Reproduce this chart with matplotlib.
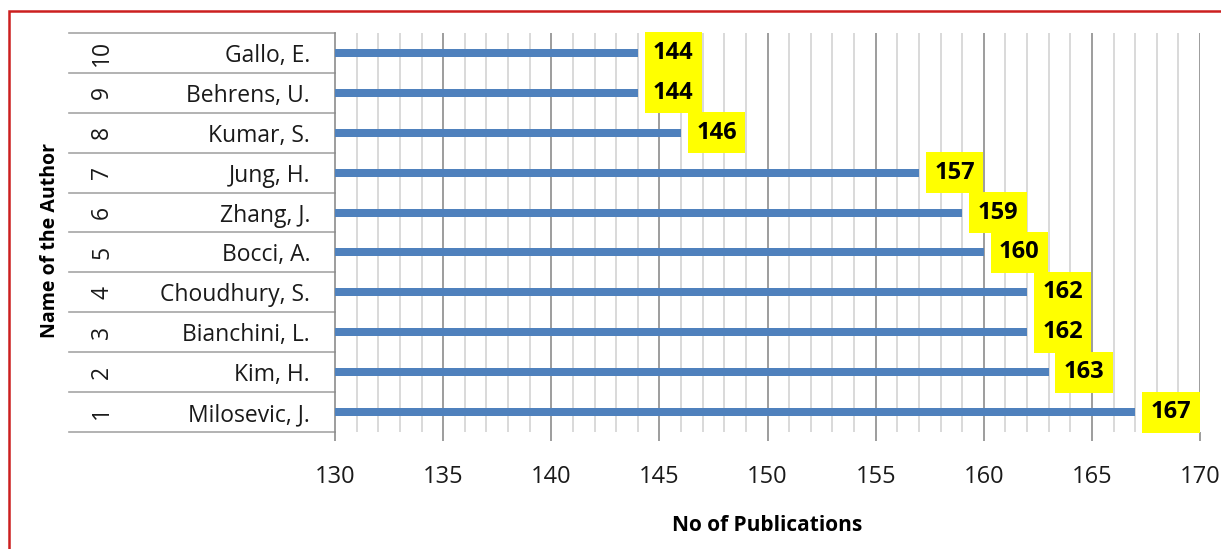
import matplotlib
matplotlib.use("Agg")
import matplotlib.pyplot as plt
import matplotlib.transforms as mtransforms
from matplotlib.patches import Rectangle

# data, rank 1 at the bottom
ranks = ["1", "2", "3", "4", "5", "6", "7", "8", "9", "10"]
authors = ["Milosevic, J.", "Kim, H.", "Bianchini, L.", "Choudhury, S.", "Bocci, A.",
           "Zhang, J.", "Jung, H.", "Kumar, S.", "Behrens, U.", "Gallo, E."]
publications = [167, 163, 162, 162, 160, 159, 157, 146, 144, 144]

plt.rcParams["font.family"] = ["Open Sans", "DejaVu Sans"]

W, H = 1221, 549
fig = plt.figure(figsize=(W / 100, H / 100), dpi=100)
ax = fig.add_axes([335 / W, 1 - 432 / H, 865 / W, 399 / H])

y = list(range(len(authors)))
ax.barh(y, publications, height=0.2, color="#4F81BD", zorder=3)
ax.set_xlim(130, 170)
ax.set_ylim(-0.5, len(authors) - 0.5)

# gridlines every 1, darker every 5
for v in range(131, 171):
    ax.axvline(v, color="#8c8c8c" if v % 5 == 0 else "#d3d3d3", lw=1.2, zorder=1)

for s in ["top", "right", "bottom"]:
    ax.spines[s].set_visible(False)
ax.spines["left"].set_color("#8c8c8c")
ax.spines["left"].set_linewidth(1.2)

ax.set_xticks(range(130, 171, 5))
ax.tick_params(axis="x", length=6.5, width=1.2, color="#8c8c8c", pad=17,
               labelsize=17, labelcolor="#1a1a1a")
ax.set_yticks(y)
ax.set_yticklabels(authors)
ax.tick_params(axis="y", length=0, pad=18, labelsize=16.5, labelcolor="#1a1a1a")

# category table lines and rank numbers
trans = mtransforms.blended_transform_factory(ax.transAxes, ax.transData)
left = (69 - 335) / 865
for b in range(len(authors) + 1):
    ax.plot([left, 0], [b - 0.5, b - 0.5], transform=trans, color="#a6a6a6",
            lw=1.2, clip_on=False)
for i, r in enumerate(ranks):
    ax.text((102 - 335) / 865, i, r, transform=trans, rotation=90, ha="center",
            va="center", fontsize=16.5, color="#1a1a1a")

# value labels
for i, v in enumerate(publications):
    ax.annotate(str(v), xy=(v, i), xytext=(11, 0), textcoords="offset points",
                ha="left", va="center", fontsize=17, fontweight="bold", color="black",
                bbox=dict(boxstyle="square,pad=0.36", fc="#FFFF00", ec="none"),
                zorder=5, annotation_clip=False)

ax.set_xlabel("No of Publications", fontsize=15, fontweight="bold")
ax.xaxis.set_label_coords(0.5, (432 - 515) / 399)
ax.set_ylabel("Name of the Author", fontsize=14, fontweight="bold")
ax.yaxis.set_label_coords((50 - 335) / 865, 0.48)
ax.yaxis.label.set_va("center")

# red frame
fig.patches.append(Rectangle((9 / W, -0.05), 1.1, 1 - 11 / H + 0.05,
                             transform=fig.transFigure, fill=False,
                             ec="#cc1f1f", lw=1.8))

fig.savefig("out.png", dpi=100)
